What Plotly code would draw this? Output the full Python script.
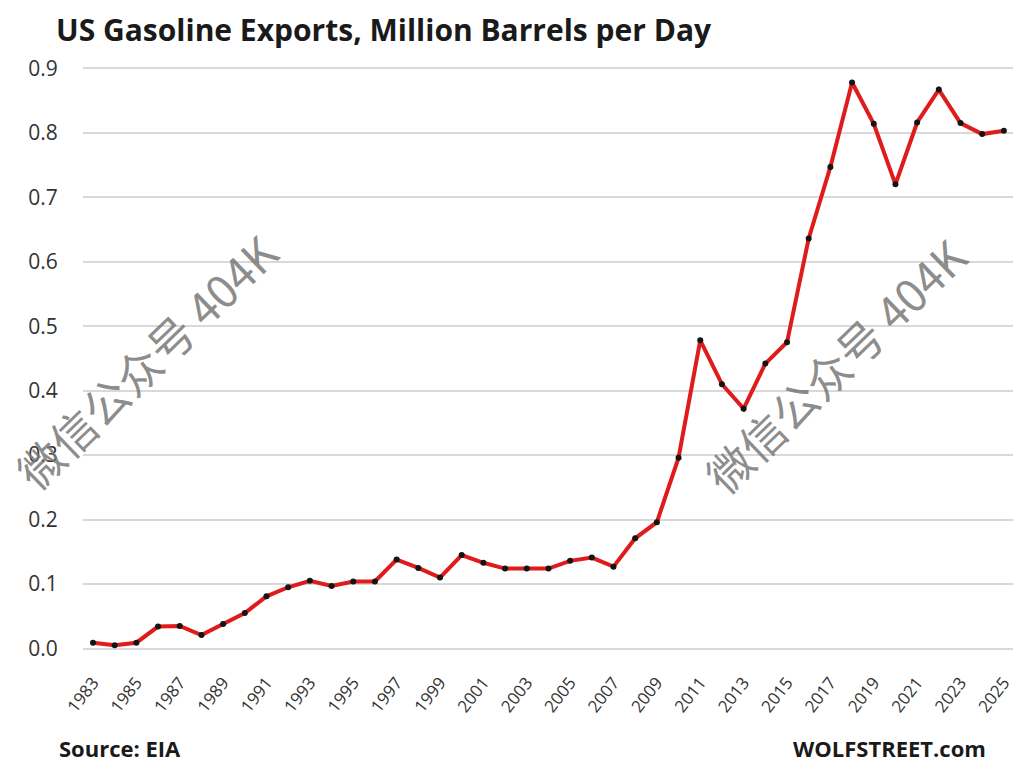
import plotly.graph_objects as go

# US gasoline exports, annual averages (million barrels per day)
years = list(range(1983, 2026))
exports = [
    0.009, 0.005, 0.009, 0.034, 0.035, 0.021, 0.038, 0.055, 0.081, 0.095,
    0.105, 0.097, 0.104, 0.104, 0.138, 0.125, 0.110, 0.145, 0.133, 0.124,
    0.124, 0.124, 0.136, 0.141, 0.127, 0.171, 0.196, 0.296, 0.478, 0.410,
    0.372, 0.442, 0.475, 0.636, 0.747, 0.878, 0.814, 0.720, 0.816, 0.867,
    0.815, 0.798, 0.803,
]
tick_years = list(range(1983, 2026, 2))
tick_labels = [str(y) for y in tick_years]
y_ticks = [0.0, 0.1, 0.2, 0.3, 0.4, 0.5, 0.6, 0.7, 0.8, 0.9]

title_text = "US Gasoline Exports, Million Barrels per Day"
source_text = "Source: EIA"
brand_text = "WOLFSTREET.com"
watermark_text = "微信公众号 404K"

W, H = 1014, 764
L, R, T, B = 83, 1, 66, 114
pw, ph = W - L - R, H - T - B


def px(xp):
    return (xp - L) / pw


def py(yp):
    return (H - B - yp) / ph


FONT = "Open Sans"
TXT = "#333333"

fig = go.Figure()
fig.add_trace(go.Scatter(
    x=years, y=exports, mode="lines+markers",
    line=dict(color="#e01b1b", width=4),
    marker=dict(color="#141414", size=6, symbol="circle"),
    hoverinfo="x+y", showlegend=False,
))

annotations = [
    dict(text=f"<b>{title_text}</b>", x=px(54), y=py(29), xanchor="left",
         yanchor="middle", font=dict(family=FONT, size=30, color="#1a1a1a")),
    dict(text=f"<b>{source_text}</b>", x=px(57), y=py(748), xanchor="left",
         yanchor="middle", font=dict(family=FONT, size=22, color="#1a1a1a")),
    dict(text=f"<b>{brand_text}</b>", x=px(988), y=py(748), xanchor="right",
         yanchor="middle", font=dict(family=FONT, size=22, color="#1a1a1a")),
]
for cx, cy in [(145, 361), (834, 365)]:
    annotations.append(dict(
        text=watermark_text, x=px(cx), y=py(cy), xanchor="center",
        yanchor="middle", textangle=-44,
        font=dict(family="Noto Sans CJK SC", size=45, color="rgba(120,120,120,0.85)"),
    ))
for a in annotations:
    a.update(xref="paper", yref="paper", showarrow=False)

fig.update_layout(
    width=W, height=H,
    margin=dict(l=L, r=R, t=T, b=B, autoexpand=False),
    paper_bgcolor="white", plot_bgcolor="white",
    annotations=annotations,
    xaxis=dict(
        range=[1982.54, 2025.42], tickmode="array", tickvals=tick_years,
        ticktext=tick_labels, tickangle=-52, showgrid=False, zeroline=False,
        showline=False, ticks="outside", ticklen=15, tickcolor="rgba(0,0,0,0)",
        ticklabeloverflow="allow",
        tickfont=dict(family=FONT, size=17, color=TXT),
    ),
    yaxis=dict(
        range=[-0.0023, 0.9036], tickmode="array", tickvals=y_ticks,
        tickformat=".1f", showgrid=True, gridcolor="#d9d9d9", gridwidth=2,
        zeroline=False, showline=False, ticks="outside", ticklen=20,
        tickcolor="rgba(0,0,0,0)",
        tickfont=dict(family=FONT, size=21, color=TXT),
    ),
)

fig.write_html("out.html")
